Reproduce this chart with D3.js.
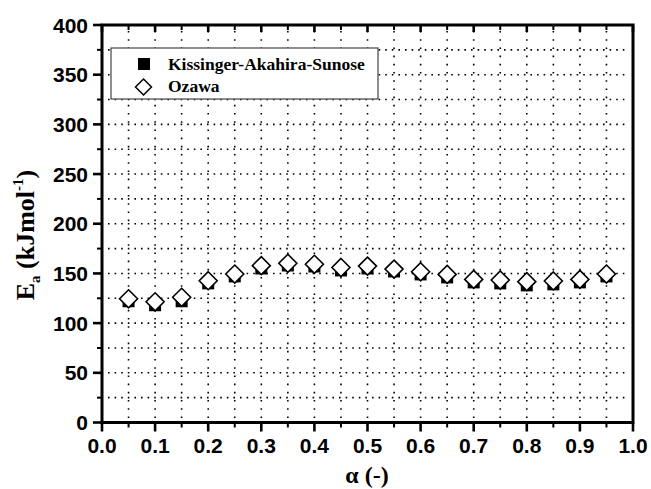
<!DOCTYPE html>
<html><head><meta charset="utf-8">
<script src="https://cdn.jsdelivr.net/npm/d3@7/dist/d3.min.js"></script>
<style>body{margin:0;background:#fff}svg{display:block}</style>
</head><body>
<script>
const alpha = [0.05,0.10,0.15,0.20,0.25,0.30,0.35,0.40,0.45,0.50,0.55,0.60,0.65,0.70,0.75,0.80,0.85,0.90,0.95];
const ozawa = [124.5,121.5,126,142.7,149.4,157.8,160.2,159.2,156,157.4,154.4,151.7,149,144,143.4,141.7,142.4,144,149.4];
const kas   = [122,118,122,140,147,155,158,157,153,155,152,149,146,141,140,138,139,141,147];
const xTicks = [0,0.1,0.2,0.3,0.4,0.5,0.6,0.7,0.8,0.9,1.0];
const yTicks = [0,50,100,150,200,250,300,350,400];
const legendLabels = ["Kissinger-Akahira-Sunose","Ozawa"];

const W=651,H=489;
const m={l:102,r:633,t:25,b:422.5};
const svg=d3.select("body").append("svg").attr("width",W).attr("height",H);
const x=d3.scaleLinear().domain([0,1]).range([m.l,m.r]);
const y=d3.scaleLinear().domain([0,400]).range([m.b,m.t]);

const minorX=d3.range(0,21).map(i=>i*0.05);
const minorY=d3.range(0,17).map(i=>i*25);

// grid
const g=svg.append("g");
g.selectAll(".hg").data(minorY.filter(v=>v>0&&v<400)).join("line")
 .attr("x1",m.l+6).attr("x2",m.r-4).attr("y1",d=>y(d)).attr("y2",d=>y(d))
 .attr("stroke","#000").attr("stroke-width",1.6).attr("stroke-dasharray","1.6,5");
g.selectAll(".vg").data(minorX.filter(v=>v>0.01&&v<0.99)).join("line")
 .attr("y1",m.t+6).attr("y2",m.b-3).attr("x1",d=>x(d)).attr("x2",d=>x(d))
 .attr("stroke","#000").attr("stroke-width",1.6).attr("stroke-dasharray","1.6,6.6");

// axes
const isMajorX=v=>Math.abs(v*10-Math.round(v*10))<1e-6;
const isMajorY=v=>v%50===0;
const bottom=d3.axisBottom(x).tickValues(minorX).tickSize(0).tickFormat("");
const ax=svg.append("g");
// bottom ticks outward
ax.selectAll(".bt").data(minorX).join("line")
 .attr("x1",d=>x(d)).attr("x2",d=>x(d)).attr("y1",m.b).attr("y2",d=>m.b+(isMajorX(d)?9:5))
 .attr("stroke","#000").attr("stroke-width",d=>isMajorX(d)?2.6:2);
// top ticks inward
ax.selectAll(".tt").data(minorX).join("line")
 .attr("x1",d=>x(d)).attr("x2",d=>x(d)).attr("y1",m.t).attr("y2",d=>m.t+(isMajorX(d)?7:5))
 .attr("stroke","#000").attr("stroke-width",d=>isMajorX(d)?2.6:2);
// left ticks outward
ax.selectAll(".lt").data(minorY).join("line")
 .attr("y1",d=>y(d)).attr("y2",d=>y(d)).attr("x1",m.l).attr("x2",d=>m.l-(isMajorY(d)?9:5))
 .attr("stroke","#000").attr("stroke-width",d=>isMajorY(d)?2.6:2);
// frame
svg.append("rect").attr("x",m.l).attr("y",m.t).attr("width",m.r-m.l).attr("height",m.b-m.t)
 .attr("fill","none").attr("stroke","#000").attr("stroke-width",3);

// tick labels
svg.append("g").selectAll("text").data(xTicks).join("text")
 .attr("x",d=>x(d)).attr("y",453).attr("text-anchor","middle")
 .attr("font-family","'Liberation Sans',Arial,sans-serif").attr("font-weight","bold").attr("font-size",21)
 .text(d=>d3.format(".1f")(d));
svg.append("g").selectAll("text").data(yTicks).join("text")
 .attr("x",88).attr("y",d=>y(d)).attr("dy","0.36em").attr("text-anchor","end")
 .attr("font-family","'Liberation Sans',Arial,sans-serif").attr("font-weight","bold").attr("font-size",21)
 .text(d=>d);

// axis titles
svg.append("text").attr("x",367).attr("y",483).attr("text-anchor","middle")
 .attr("font-family","'Liberation Serif','Times New Roman',serif").attr("font-weight","bold").attr("font-size",24)
 .text("α (-)");
const yt=svg.append("text").attr("transform","translate(34,235) rotate(-90)").attr("text-anchor","middle")
 .attr("font-family","'Liberation Serif','Times New Roman',serif").attr("font-weight","bold").attr("font-size",26);
yt.append("tspan").text("E");
yt.append("tspan").attr("font-size",15).attr("dy",6).text("a");
yt.append("tspan").attr("dy",-6).text(" (kJmol");
yt.append("tspan").attr("font-size",15).attr("dy",-11).text("-1");
yt.append("tspan").attr("dy",11).text(")");

// data
const S=6, D=9;
svg.append("g").selectAll("rect").data(alpha).join("rect")
 .attr("x",(d,i)=>x(d)-S).attr("y",(d,i)=>y(kas[i])-S).attr("width",2*S).attr("height",2*S).attr("fill","#000");
const diamond=(cx,cy,r)=>`M${cx},${cy-r}L${cx+r},${cy}L${cx},${cy+r}L${cx-r},${cy}Z`;
svg.append("g").selectAll("path").data(alpha).join("path")
 .attr("d",(d,i)=>diamond(x(d),y(ozawa[i]),D)).attr("fill","#fff").attr("stroke","#000").attr("stroke-width",1.6);

// legend
const lg=svg.append("g");
lg.append("rect").attr("x",111).attr("y",48).attr("width",267).attr("height",51)
 .attr("fill","#fff").attr("stroke","#444").attr("stroke-width",1.2);
lg.append("rect").attr("x",138).attr("y",58).attr("width",12).attr("height",12).attr("fill","#000");
lg.append("path").attr("d",diamond(143.5,87,8)).attr("fill","#fff").attr("stroke","#000").attr("stroke-width",1.5);
lg.selectAll("text").data(legendLabels).join("text")
 .attr("x",168).attr("y",(d,i)=>70+i*22)
 .attr("font-family","'Liberation Serif','Times New Roman',serif").attr("font-weight","bold").attr("font-size",17.5)
 .text(d=>d);
</script>
</body></html>
